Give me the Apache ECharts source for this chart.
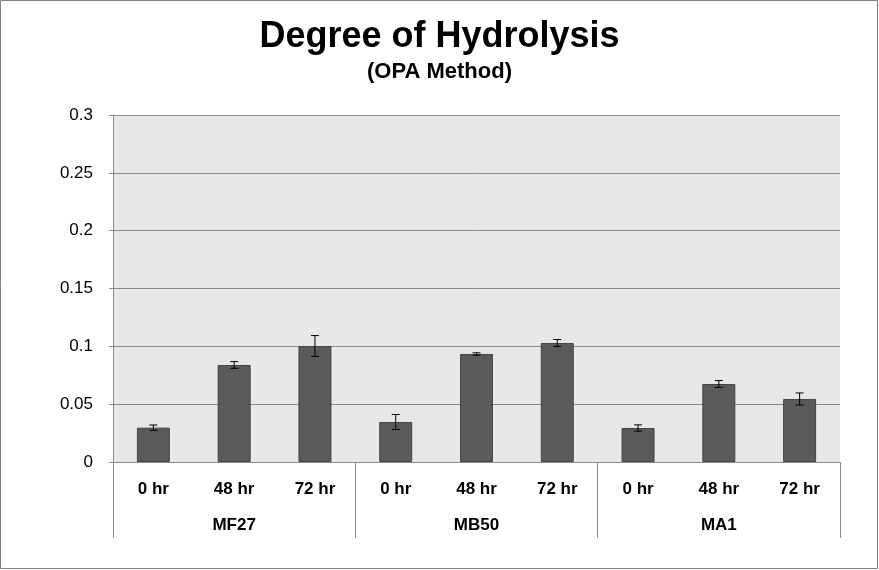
<!DOCTYPE html>
<html><head><meta charset="utf-8">
<script src="https://cdn.jsdelivr.net/npm/echarts@6/dist/echarts.min.js"></script>
<style>html,body{margin:0;padding:0;background:#fff}#c{width:879px;height:570px}</style>
</head><body><div id="c"></div>
<script>
const timeLabels = ['0 hr','48 hr','72 hr','0 hr','48 hr','72 hr','0 hr','48 hr','72 hr'];
const groupLabels = ['MF27','MB50','MA1'];
const values = [0.0297, 0.0839, 0.1003, 0.0346, 0.0934, 0.1029, 0.0294, 0.0674, 0.0545];
const errors = [0.0023, 0.0029, 0.0090, 0.0065, 0.0010, 0.0030, 0.0027, 0.0030, 0.0052];
const yTicks = [0, 0.05, 0.1, 0.15, 0.2, 0.25, 0.3];

const errData = values.map((v, i) => [i, v - errors[i], v + errors[i]]);
const FONT = '"Liberation Sans", Arial, sans-serif';
const chart = echarts.init(document.getElementById('c'), null, {renderer: 'canvas'});
chart.setOption({
  animation: false,
  backgroundColor: '#fff',
  title: [
    {text: 'Degree of Hydrolysis', left: 'center', top: 14,
     textStyle: {fontFamily: FONT, fontSize: 36, fontWeight: 'bold', color: '#000'}},
    {text: '(OPA Method)', left: 'center', top: 56,
     textStyle: {fontFamily: FONT, fontSize: 22, fontWeight: 'bold', color: '#000'}}
  ],
  graphic: [{type: 'rect', shape: {x: 0.5, y: 0.5, width: 877, height: 568},
    style: {fill: 'none', stroke: '#808080', lineWidth: 1}, silent: true}],
  grid: {left: 113, right: 39, top: 115, bottom: 108, show: true,
         backgroundColor: '#e8e8e8', borderWidth: 0},
  xAxis: [
    {type: 'category', data: timeLabels, position: 'bottom',
     axisLine: {show: true, lineStyle: {color: '#8c8c8c'}},
     axisTick: {show: false},
     axisLabel: {interval: 0, margin: 19, fontFamily: FONT, fontSize: 17, fontWeight: 'bold', color: '#000'}},
    {type: 'category', data: groupLabels, position: 'bottom', gridIndex: 0,
     axisLine: {show: false},
     axisTick: {show: true, length: 76, interval: 0, lineStyle: {color: '#8c8c8c'}},
     axisLabel: {interval: 0, margin: 55, fontFamily: FONT, fontSize: 17, fontWeight: 'bold', color: '#000'},
     splitLine: {show: false}}
  ],
  yAxis: {type: 'value', min: 0, max: 0.3, interval: 0.05,
    axisLine: {show: true, lineStyle: {color: '#8c8c8c'}},
    axisTick: {show: true, length: 4, lineStyle: {color: '#8c8c8c'}},
    splitLine: {show: true, lineStyle: {color: '#8c8c8c', width: 1}},
    axisLabel: {margin: 20, fontFamily: FONT, fontSize: 17, color: '#000'}},
  series: [
    {type: 'bar', data: values, barWidth: 33, xAxisIndex: 0,
     itemStyle: {color: '#5a5a5a', borderColor: '#454545', borderWidth: 1}},
    {type: 'custom', xAxisIndex: 0, data: errData, z: 10,
     renderItem: function (params, api) {
       const x = api.value(0);
       const lo = api.coord([x, api.value(1)]);
       const hi = api.coord([x, api.value(2)]);
       const w = 4;
       const st = {stroke: '#000', lineWidth: 1};
       return {type: 'group', children: [
         {type: 'line', shape: {x1: lo[0], y1: lo[1], x2: hi[0], y2: hi[1]}, style: st},
         {type: 'line', shape: {x1: lo[0]-w, y1: lo[1], x2: lo[0]+w, y2: lo[1]}, style: st},
         {type: 'line', shape: {x1: hi[0]-w, y1: hi[1], x2: hi[0]+w, y2: hi[1]}, style: st}
       ]};
     }}
  ]
});
</script></body></html>
